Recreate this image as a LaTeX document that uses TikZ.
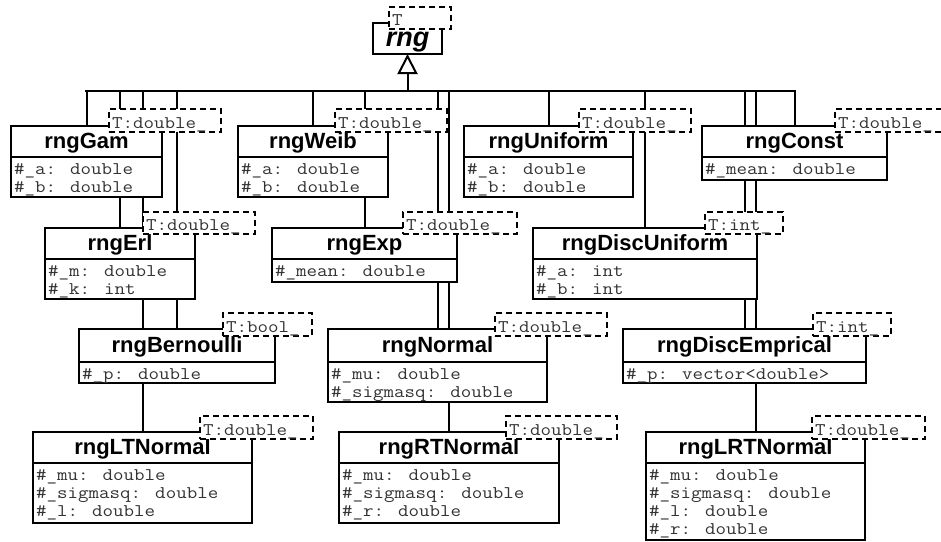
\documentclass[tikz,border=0pt]{standalone}
\usepackage{fontspec}
\setmainfont{Liberation Sans}
\newfontfamily\umlmono{Latin Modern Mono}[FakeStretch=1.146]
\usetikzlibrary{arrows.meta,backgrounds}
\newcommand\namefont{\fontsize{22}{24}\selectfont\bfseries}
\newcommand\rngfont{\fontsize{27}{30}\selectfont\bfseries\itshape}
\newcommand\attrfont{\umlmono\fontsize{17.8}{18}\selectfont}
\tikzset{
  namebox/.style={draw, line width=2pt, fill=white, inner sep=0pt, outer sep=0pt,
    font=\namefont, text height=14pt, text depth=0pt},
  compbox/.style={draw, line width=2pt, fill=white, inner sep=0pt, outer sep=0pt},
  attrtext/.style={anchor=base west, inner sep=0pt, font=\attrfont, text=black!80},
  tmplbox/.style={draw, line width=2pt, dash pattern=on 6pt off 4pt, fill=white,
    inner sep=0pt, outer sep=0pt},
  tmpltext/.style={anchor=base west, inner sep=0pt, font=\attrfont, text=black!80},
  conn/.style={draw, line width=2pt, line cap=rect},
  busline/.style={draw, line width=2.7pt, line cap=rect},
}
\newcommand\UmlClass[8]{%
  \node[namebox, minimum width={#3-#2}, minimum height={#5-#4}, anchor=north west] (#1) at (#2,#4) {#7};
  \node[compbox, minimum width={#3-#2}, minimum height={#6-#5}, anchor=north west] (#1A) at (#2,#5) {};
  \foreach \t [count=\i] in {#8} {\node[attrtext] (#1a\i) at (#2+3, #5+17+18*\i-18) {\t};}%
}
\newcommand\UmlTmpl[6]{%
  \node[tmplbox, minimum width={#3-#2}, minimum height={#5-#4}, anchor=north west] (#1) at (#2,#4) {};
  \node[tmpltext] (#1t) at (#2+3, #5-4) {#6};%
}
\begin{document}
\begin{tikzpicture}[x=1pt,y=-1pt]
\useasboundingbox (0,0) rectangle (941,541);
\clip (0,0) rectangle (941,541);

% root class
\node[namebox, font=\rngfont, text height=16pt, minimum width=69, minimum height=31, anchor=north west] (rng) at (373,23) {rng};

% classes
\UmlClass{gam}{11}{162}{126}{157}{197}{rngGam}{\#\_a: double,\#\_b: double}
\UmlClass{weib}{238}{388}{126}{157}{197}{rngWeib}{\#\_a: double,\#\_b: double}
\UmlClass{unif}{464}{633}{126}{157}{197}{rngUniform}{\#\_a: double,\#\_b: double}
\UmlClass{const}{702}{887}{126}{157}{180}{rngConst}{\#\_mean: double}
\UmlClass{erl}{45}{195}{228}{259}{299}{rngErl}{\#\_m: double,\#\_k: int}
\UmlClass{exp}{272}{457}{228}{259}{282}{rngExp}{\#\_mean: double}
\UmlClass{dunif}{533}{757}{228}{259}{299}{rngDiscUniform}{\#\_a: int,\#\_b: int}
\UmlClass{bern}{79}{275}{329}{362}{383}{rngBernoulli}{\#\_p: double}
\UmlClass{norm}{328}{547}{329}{362}{402}{rngNormal}{\#\_mu: double,\#\_sigmasq: double}
\UmlClass{demp}{623}{866}{329}{362}{383}{rngDiscEmprical}{\#\_p: vector<double>}
\UmlClass{ltn}{33}{252}{432}{463}{523}{rngLTNormal}{\#\_mu: double,\#\_sigmasq: double,\#\_l: double}
\UmlClass{rtn}{339}{559}{432}{463}{523}{rngRTNormal}{\#\_mu: double,\#\_sigmasq: double,\#\_r: double}
\UmlClass{lrtn}{646}{865}{432}{463}{540}{rngLRTNormal}{\#\_mu: double,\#\_sigmasq: double,\#\_l: double,\#\_r: double}

% template parameter boxes
\UmlTmpl{rngT}{389}{451}{7}{29}{T}
\UmlTmpl{gamT}{109}{221}{109}{132}{T:double\_}
\UmlTmpl{weibT}{335}{447}{109}{132}{T:double\_}
\UmlTmpl{unifT}{579}{691}{109}{132}{T:double\_}
\UmlTmpl{constT}{835}{947}{109}{132}{T:double\_}
\UmlTmpl{erlT}{143}{255}{212}{234}{T:double\_}
\UmlTmpl{expT}{403}{517}{212}{234}{T:double\_}
\UmlTmpl{dunifT}{705}{783}{212}{234}{T:int\_}
\UmlTmpl{bernT}{223}{312}{313}{336}{T:bool\_}
\UmlTmpl{normT}{495}{607}{313}{336}{T:double\_}
\UmlTmpl{dempT}{813}{891}{313}{336}{T:int\_}
\UmlTmpl{ltnT}{200}{313}{416}{439}{T:double\_}
\UmlTmpl{rtnT}{506}{617}{416}{439}{T:double\_}
\UmlTmpl{lrtnT}{812}{925}{416}{439}{T:double\_}

\coordinate (bus) at (0,91);
\begin{scope}[on background layer]
  \foreach \c in {gam,weib,unif,const,erl,exp,dunif,bern,norm,demp,ltn,rtn,lrtn}
    \draw[conn] (\c.north) -- (\c.north |- bus);
  \draw[busline] (gam.north |- bus) -- (const.north |- bus);
  \draw[conn, line cap=butt, -{Triangle[open, length=20pt, width=20pt]}] (rng.south |- bus) -- (rng.south);
\end{scope}
\end{tikzpicture}
\end{document}
